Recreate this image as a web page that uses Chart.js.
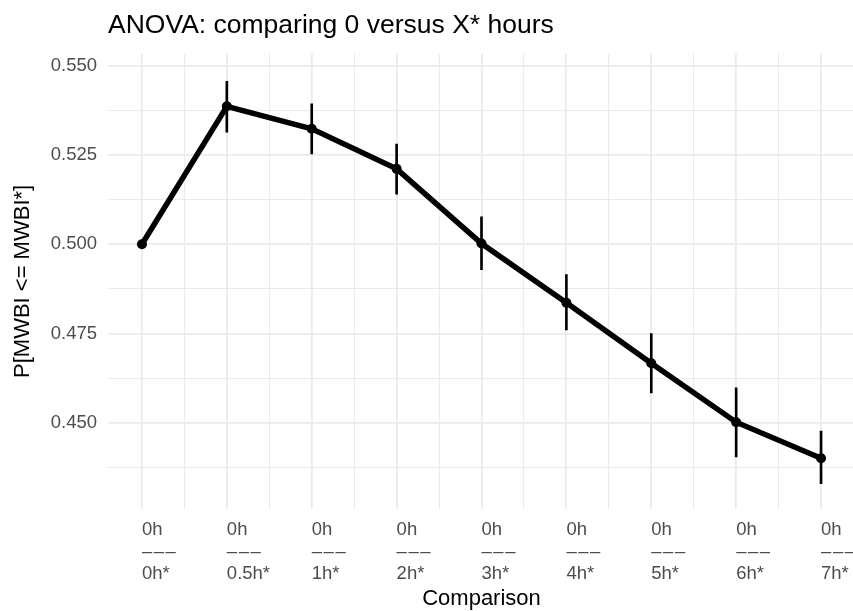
<!DOCTYPE html>
<html>
<head>
<meta charset="utf-8">
<script src="https://cdn.jsdelivr.net/npm/chart.js@4"></script>
<style>
  html, body { margin: 0; padding: 0; background: #fff; overflow: hidden; }
  #wrap { width: 860px; height: 611px; }
</style>
</head>
<body>
<div id="wrap"><canvas id="anovaChart"></canvas></div>
<script>
// comparison positions and their labels (0h vs X* hours)
const positions = [1, 2, 3, 4, 5, 6, 7, 8, 9];
const baseLabel = '0h';
const compLabels = ['0h*', '0.5h*', '1h*', '2h*', '3h*', '4h*', '5h*', '6h*', '7h*'];

// P[MWBI <= MWBI*] estimates with lower / upper interval ends
const estimate = [0.5000, 0.5386, 0.5323, 0.5211, 0.5002, 0.4836, 0.4667, 0.4502, 0.4401];
const lower = [null, 0.5314, 0.5253, 0.5140, 0.4929, 0.4760, 0.4584, 0.4405, 0.4330];
const upper = [null, 0.5456, 0.5393, 0.5280, 0.5077, 0.4915, 0.4750, 0.4598, 0.4477];

// gridline positions (major + minor) and tick text
const xGrid = [1, 1.5, 2, 2.5, 3, 3.5, 4, 4.5, 5, 5.5, 6, 6.5, 7, 7.5, 8, 8.5, 9];
const yGrid = [0.4375, 0.45, 0.4625, 0.475, 0.4875, 0.5, 0.5125, 0.525, 0.5375, 0.55];
const yLabels = ['0.450', '0.475', '0.500', '0.525', '0.550'];

const gridColor = '#EBEBEB';
const font = "'Liberation Sans', Arial, Helvetica, sans-serif";
const dashes = '\u2013\u200A\u2013\u200A\u2013';

function isMajor(v, step) {
    return Math.abs(v / step - Math.round(v / step)) < 1e-6;
}

function gridWidth(c, step) {
    if (!c.tick) return 1;
    return isMajor(c.tick.value, step) ? 1.8 : 1;
}

const lineData = positions.map((x, i) => ({ x: x, y: estimate[i] }));
const barData = positions
    .map((x, i) => ({ x: x, y: [lower[i], upper[i]] }))
    .filter(d => d.y[0] !== null);

const ctx = document.getElementById('anovaChart').getContext('2d');
const chart = new Chart(ctx, {
    type: 'line',
    data: {
        datasets: [
            {
                type: 'bar',
                label: 'interval',
                data: barData,
                backgroundColor: '#000000',
                borderWidth: 0,
                barThickness: 2,
                order: 2
            },
            {
                type: 'line',
                label: 'estimate',
                data: lineData,
                borderColor: '#000000',
                backgroundColor: '#000000',
                borderWidth: 5.5,
                pointRadius: 5,
                pointBackgroundColor: '#000000',
                pointBorderWidth: 0,
                tension: 0,
                order: 1
            }
        ]
    },
    options: {
        responsive: true,
        maintainAspectRatio: false,
        animation: false,
        layout: { padding: { left: 0, right: 3, top: 0, bottom: 0 } },
        plugins: {
            legend: { display: false },
            tooltip: { enabled: false },
            title: {
                display: true,
                text: 'ANOVA: comparing 0 versus X* hours',
                align: 'start',
                fullSize: false,
                color: '#000000',
                font: { family: font, size: 26.5, weight: 'normal', lineHeight: 1.2 },
                padding: { top: 10, bottom: 12 }
            }
        },
        scales: {
            x: {
                type: 'linear',
                min: 0.6,
                max: 9.4,
                offset: false,
                afterFit: s => {
                    s.height = 102;
                    s.paddingLeft = 0;
                    s.paddingRight = 0;
                },
                afterBuildTicks: s => { s.ticks = xGrid.map(v => ({ value: v })); },
                border: { display: false },
                grid: {
                    color: gridColor,
                    offset: false,
                    drawTicks: false,
                    lineWidth: c => gridWidth(c, 1)
                },
                ticks: {
                    autoSkip: false,
                    maxRotation: 0,
                    align: 'start',
                    padding: 9.5,
                    color: '#4D4D4D',
                    font: { family: font, size: 18.5, lineHeight: 22 / 18.5 },
                    callback: v => {
                        const i = positions.indexOf(v);
                        return i < 0 ? '' : [baseLabel, dashes, compLabels[i]];
                    }
                },
                title: {
                    display: true,
                    text: 'Comparison',
                    color: '#000000',
                    font: { family: font, size: 22, lineHeight: 1.2 },
                    padding: { top: 0, bottom: -1 }
                }
            },
            y: {
                min: 0.4259,
                max: 0.5533,
                afterFit: s => {
                    s.width = 108;
                    s.paddingTop = 0;
                    s.paddingBottom = 0;
                },
                afterBuildTicks: s => { s.ticks = yGrid.map(v => ({ value: v })); },
                border: { display: false },
                grid: {
                    color: gridColor,
                    drawTicks: false,
                    lineWidth: c => gridWidth(c, 0.025)
                },
                ticks: {
                    padding: 11,
                    color: '#4D4D4D',
                    font: { family: font, size: 18.5 },
                    callback: v => {
                        if (!isMajor(v, 0.025)) return '';
                        const s = v.toFixed(3);
                        return yLabels.includes(s) ? s : '';
                    }
                },
                title: {
                    display: true,
                    text: 'P[MWBI <= MWBI*]',
                    color: '#000000',
                    font: { family: font, size: 22, lineHeight: 1.2 },
                    padding: { top: 10, bottom: 0 }
                }
            }
        }
    }
});
</script>
</body>
</html>
